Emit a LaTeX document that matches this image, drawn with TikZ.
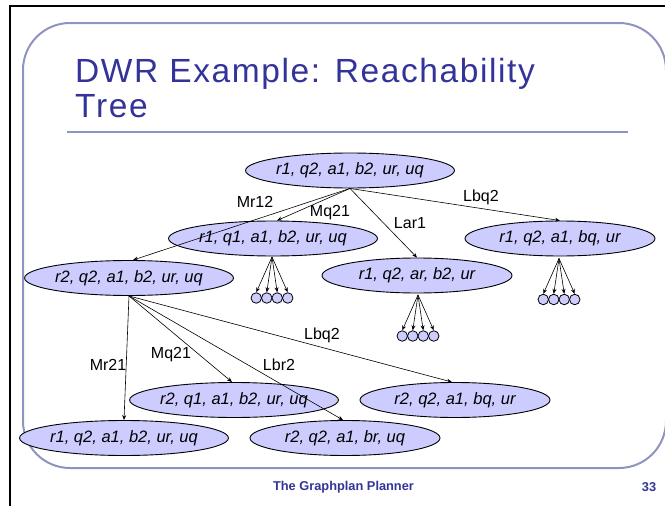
\documentclass[tikz,border=0pt]{standalone}
\usepackage{fontspec}
\setmainfont{Liberation Sans}
\newfontfamily\titlefont{Liberation Sans}[LetterSpace=4.8]
\usetikzlibrary{shapes.geometric,arrows.meta}
\definecolor{slideblue}{HTML}{333399}
\definecolor{framegray}{HTML}{8E94BF}
\definecolor{statefill}{HTML}{CCCCFF}
\begin{document}
\begin{tikzpicture}[x=1pt,y=-1pt,
  state/.style={ellipse,draw=black,line width=0.9pt,fill=statefill,
    minimum width=190pt,minimum height=35pt,inner sep=0pt,
    font=\fontsize{16.5}{18}\selectfont\itshape},
  leaf/.style={circle,draw=black,line width=0.8pt,fill=statefill,
    minimum size=10.5pt,inner sep=0pt},
  edge/.style={line width=0.6pt,-{Stealth[length=5pt,width=4pt]}},
  act/.style={font=\fontsize{16}{18}\selectfont,inner sep=0pt}]
\useasboundingbox (0,0) rectangle (665,506);

% page frame and slide outline
\draw[line width=1.5pt] (665,6) -- (10,6) -- (10,506);
\draw[framegray,line width=2pt,rounded corners=47pt] (23,23) rectangle (666,468);

% title and rule
\node[anchor=base west,inner sep=0pt,text=slideblue,font=\titlefont\fontsize{33.5}{35}\selectfont] (t1) at (75,82) {DWR Example: Reachability};
\node[anchor=base west,inner sep=0pt,text=slideblue,font=\titlefont\fontsize{33.5}{35}\selectfont] (t2) at (75,117) {Tree};
\draw[framegray,line width=2.5pt] (67,132) -- (628,132);

% states
\node[state] (s0) at (350,170.5) {r1, q2, a1, b2, ur, uq};
\node[state] (s1) at (273,238.5) {r1, q1, a1, b2, ur, uq};
\node[state] (s2) at (129,278) {r2, q2, a1, b2, ur, uq};
\node[state] (s3) at (417,275.5) {r1, q2, ar, b2, ur};
\node[state] (s4) at (560,238.5) {r1, q2, a1, bq, ur};
\node[state] (s5) at (234,400) {r2, q1, a1, b2, ur, uq};
\node[state] (s6) at (455,400) {r2, q2, a1, bq, ur};
\node[state] (s7) at (124,438) {r1, q2, a1, b2, ur, uq};
\node[state] (s8) at (345,438) {r2, q2, a1, br, uq};

% unexpanded successors
\foreach \p/\s/\x/\y in {a/s1/272/298, b/s3/418/336, c/s4/559/299.5}{
  \coordinate (\p src) at (\x,\y-41);
  \foreach \i/\dx in {1/-15.75,2/-5.25,3/5.25,4/15.75}{
    \node[leaf] (\p\i) at (\x+\dx,\y) {};
    \draw[edge] (\p src) -- (\p\i.north);
  }
}

% transitions from the root
\draw[edge] (s0.south) -- ([xshift=4pt]s2.north);
\draw[edge] (s0.south) -- ([xshift=4pt]s1.north);
\draw[edge] (s0.south) -- (s3.north);
\draw[edge] (s0.south) -- (s4.north);

% transitions from r2, q2, a1, b2, ur, uq
\draw[edge] (s2.south) -- (s7.north);
\draw[edge] (s2.south) -- ([xshift=-2pt]s5.north);
\draw[edge] (s2.south) -- ([xshift=-2pt]s8.north);
\draw[edge] (s2.south) -- ([xshift=-3pt]s6.north);

% action labels
\node[act] (lmr12) at (255,202) {Mr12};
\node[act] (lmq21) at (330,213) {Mq21};
\node[act] (llar1) at (410,223) {Lar1};
\node[act] (llbq2) at (481,197) {Lbq2};
\node[act] (lmr21) at (108,365) {Mr21};
\node[act] (lmq21b) at (171,355) {Mq21};
\node[act] (llbr2) at (279,365) {Lbr2};
\node[act] (llbq2b) at (322,335) {Lbq2};

% footer
\node[text=slideblue,font=\bfseries\fontsize{12.8}{14}\selectfont,inner sep=0pt] (foot) at (343.5,487) {The Graphplan Planner};
\node[text=slideblue,font=\bfseries\fontsize{12.8}{14}\selectfont,inner sep=0pt] (page) at (649,487) {33};
\end{tikzpicture}
\end{document}
